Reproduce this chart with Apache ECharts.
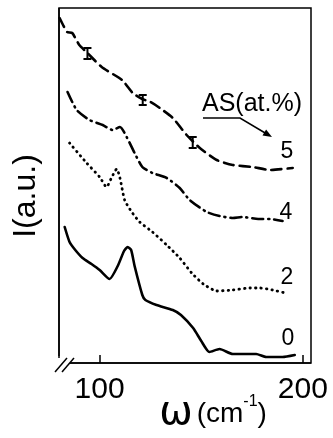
<!DOCTYPE html>
<html>
<head>
<meta charset="utf-8">
<script src="https://cdn.jsdelivr.net/npm/echarts@6/dist/echarts.min.js"></script>
<style>
  html, body { margin: 0; padding: 0; background: #fff; }
  #chart { width: 333px; height: 438px; }
</style>
</head>
<body>
<div id="chart"></div>
<script>
// wavenumber (cm-1) and intensity (a.u.)
const omega0 = [82.8, 85.2, 88, 91.6, 96, 100, 104.9, 108.9, 112, 113.8, 115.5, 117.2, 121, 122.5, 128, 136, 140, 146, 150, 154, 159, 165.5, 177, 182, 190, 196];
const curve0 = [136, 121, 113, 105, 99, 93, 84, 97, 112, 116, 113, 97, 68, 63, 58, 53, 48, 35, 22, 11, 14, 9, 9, 6, 6, 8];

const omega2 = [85.2, 93.6, 100, 103.4, 106, 108.4, 110, 112.3, 115.8, 119.7, 126, 133, 139.4, 145.3, 151, 157.6, 165.5, 174, 179, 185, 191.4];
const curve2 = [220, 200, 186, 176, 186, 194, 185, 163, 151, 141, 131, 118, 105, 90, 79, 72, 73, 75, 75, 73, 70];

const omega4 = [84.2, 88.7, 95, 101.5, 106.4, 110, 113.3, 117.2, 121, 126, 133, 139.4, 144.3, 152.7, 159, 165.5, 170.4, 178, 184, 190];
const curve4 = [271, 253, 243, 238, 233, 236, 226, 210, 196, 190, 185, 175, 163, 151, 147, 145, 146, 144, 144, 142];

const omega5 = [80.3, 82, 84, 86.5, 90, 94, 101, 111, 116.3, 121, 125, 129.6, 136, 142.8, 149.3, 157.6, 165.5, 175.4, 183.7, 195];
const curve5 = [345, 338, 331, 330, 318, 310, 296, 283, 270, 264, 261, 255, 245, 228, 215, 203, 198, 196, 193, 195];

// error bars on the 5 at.% curve
const errX = [94, 121.2, 145.8];
const errLow = [304, 258, 215];
const errHigh = [315, 268, 226];

const xTicks = [100, 200];
const curveNames = ['0', '2', '4', '5'];

const zip = (xs, ys) => xs.map((x, i) => [x, ys[i]]);

const chart = echarts.init(document.getElementById('chart'));

const lineStyleBase = { color: '#000', width: 2.6, cap: 'round', join: 'round' };

chart.setOption({
  animation: false,
  grid: {
    left: 59, top: 8, right: 22, bottom: 75,
    show: true, borderColor: '#000', borderWidth: 1.5
  },
  xAxis: {
    type: 'value', min: 80, max: 204,
    splitLine: { show: false },
    axisLine: { show: false },
    axisTick: { show: true, inside: true, length: 8, customValues: xTicks, lineStyle: { color: '#000', width: 1.5 } },
    axisLabel: {
      customValues: xTicks, color: '#000', fontSize: 30, margin: 12,
      fontFamily: 'Liberation Sans Narrow, Liberation Sans, sans-serif'
    }
  },
  yAxis: {
    type: 'value', min: 0, max: 355,
    splitLine: { show: false },
    axisLine: { show: false },
    axisTick: { show: false },
    axisLabel: { show: false }
  },
  series: [
    {
      name: curveNames[0], type: 'line', data: zip(omega0, curve0), smooth: 0.2,
      symbol: 'none', lineStyle: Object.assign({}, lineStyleBase, { type: 'solid' })
    },
    {
      name: curveNames[1], type: 'line', data: zip(omega2, curve2), smooth: 0.2,
      symbol: 'none', lineStyle: Object.assign({}, lineStyleBase, { type: [0.5, 5], width: 2.8 })
    },
    {
      name: curveNames[2], type: 'line', data: zip(omega4, curve4), smooth: 0.2,
      symbol: 'none', lineStyle: Object.assign({}, lineStyleBase, { type: [11, 5, 1, 5] })
    },
    {
      name: curveNames[3], type: 'line', data: zip(omega5, curve5), smooth: 0.2,
      symbol: 'none', lineStyle: Object.assign({}, lineStyleBase, { type: [10, 6] })
    },
    {
      type: 'custom',
      data: errX.map((x, i) => [x, errLow[i], errHigh[i]]),
      renderItem: function (params, api) {
        const lo = api.coord([api.value(0), api.value(1)]);
        const hi = api.coord([api.value(0), api.value(2)]);
        const w = 4;
        const st = { stroke: '#000', lineWidth: 2 };
        return {
          type: 'group',
          children: [
            { type: 'line', shape: { x1: lo[0], y1: lo[1], x2: hi[0], y2: hi[1] }, style: st },
            { type: 'line', shape: { x1: lo[0] - w, y1: lo[1], x2: lo[0] + w, y2: lo[1] }, style: st },
            { type: 'line', shape: { x1: hi[0] - w, y1: hi[1], x2: hi[0] + w, y2: hi[1] }, style: st }
          ]
        };
      }
    }
  ],
  graphic: [
    // axis break marks
    { type: 'rect', shape: { x: 56, y: 356, width: 14, height: 14 }, style: { fill: '#fff' }, z: 100 },
    { type: 'line', shape: { x1: 55, y1: 372, x2: 67, y2: 358 }, style: { stroke: '#000', lineWidth: 1.5 }, z: 101 },
    { type: 'line', shape: { x1: 62, y1: 372, x2: 74, y2: 358 }, style: { stroke: '#000', lineWidth: 1.5 }, z: 101 },
    { type: 'line', shape: { x1: 59, y1: 8, x2: 59, y2: 358 }, style: { stroke: '#000', lineWidth: 1.5 }, z: 101 },
    { type: 'line', shape: { x1: 70, y1: 363, x2: 311, y2: 363 }, style: { stroke: '#000', lineWidth: 1.5 }, z: 101 },
    // curve labels
    { type: 'text', x: 287, y: 163, style: { text: '5', fontSize: 23, fill: '#000', align: 'center', verticalAlign: 'bottom', fontFamily: 'Liberation Sans, sans-serif' } },
    { type: 'text', x: 286, y: 224, style: { text: '4', fontSize: 23, fill: '#000', align: 'center', verticalAlign: 'bottom', fontFamily: 'Liberation Sans, sans-serif' } },
    { type: 'text', x: 287, y: 289, style: { text: '2', fontSize: 23, fill: '#000', align: 'center', verticalAlign: 'bottom', fontFamily: 'Liberation Sans, sans-serif' } },
    { type: 'text', x: 288, y: 350, style: { text: '0', fontSize: 23, fill: '#000', align: 'center', verticalAlign: 'bottom', fontFamily: 'Liberation Sans, sans-serif' } },
    // legend caption with arrow
    { type: 'text', x: 202, y: 92, style: { text: 'AS(at.%)', fontSize: 25, fill: '#000', fontFamily: 'Liberation Sans Narrow, Liberation Sans, sans-serif' } },
    { type: 'polyline', shape: { points: [[203, 118], [240, 118], [266, 133.5]] }, style: { stroke: '#000', lineWidth: 1.5, fill: null } },
    { type: 'polygon', shape: { points: [[272, 137], [262.5, 135.4], [266.1, 129.4]] }, style: { fill: '#000' } },
    // axis titles
    {
      type: 'text', x: 26, y: 196, rotation: Math.PI / 2,
      style: { text: 'I(a.u.)', fontSize: 32, fill: '#000', align: 'center', verticalAlign: 'middle', fontFamily: 'Liberation Sans, sans-serif' }
    },
    {
      type: 'text', x: 213, y: 434,
      style: {
        text: '{w|ω}{u|(cm}{s|-1}{u|)}', align: 'center', verticalAlign: 'bottom', fill: '#000',
        rich: {
          w: { fontSize: 40, fontFamily: 'DejaVu Sans, sans-serif', fill: '#000', padding: [0, 4, 0, 0] },
          u: { fontSize: 28, fontFamily: 'Liberation Sans, sans-serif', fill: '#000' },
          s: { fontSize: 16, fontFamily: 'Liberation Sans, sans-serif', fill: '#000', verticalAlign: 'top', padding: [0, 0, 16, 0] }
        }
      }
    }
  ]
});
</script>
</body>
</html>
